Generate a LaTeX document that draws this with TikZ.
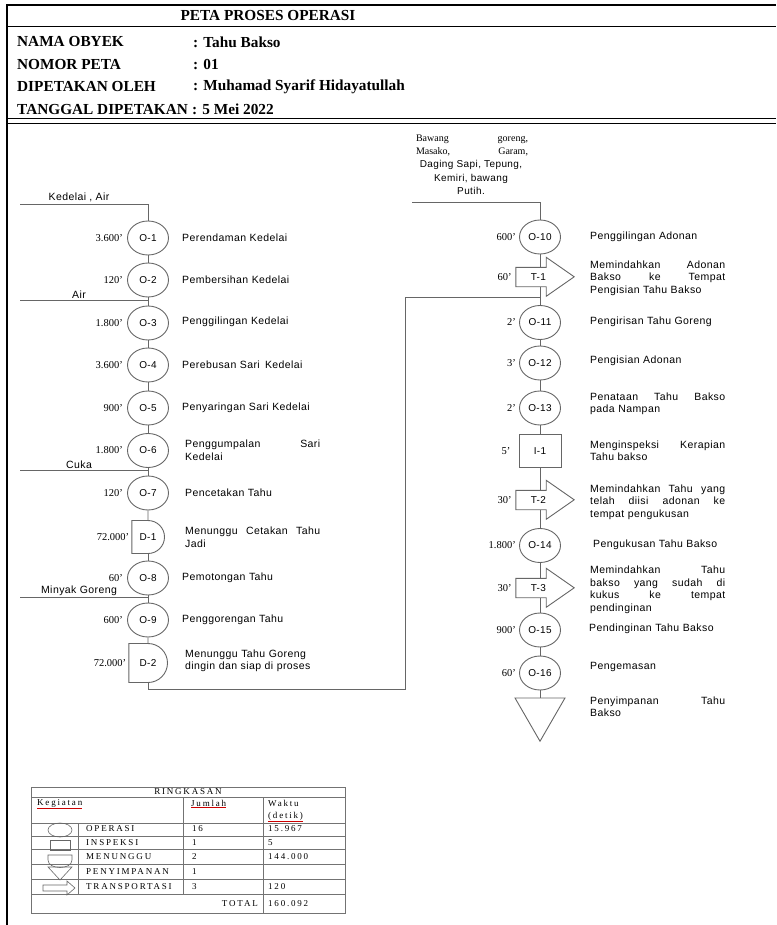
\documentclass[tikz,border=0pt]{standalone}
\usepackage{fontspec}
\setmainfont{Liberation Serif}
\newfontfamily\sansf[LetterSpace=4]{Liberation Sans}
\newfontfamily\tabf[LetterSpace=20]{Liberation Serif}
\usetikzlibrary{shapes.geometric,shapes.misc,positioning}

\newcommand{\hdfont}{\bfseries\fontsize{15.3}{18}\selectfont}
\newcommand{\descfont}{\sansf\fontsize{10.5}{12.5}\selectfont}
\newcommand{\lblfont}{\sansf\fontsize{10}{12}\selectfont}
\newcommand{\tmfont}{\fontsize{10.5}{12}\selectfont}
\newcommand{\tabfont}{\tabf\fontsize{9}{10}\selectfont}

% transport arrow drawn round its (invisible) body node
\newcommand{\tarrow}[1]{%
  \draw[shp] (#1.south west) -- (#1.north west) -- (#1.north east) -- ++(0,-10)
    -- ++(28,19.5) -- ++(-28,19.5) -- (#1.south east) -- cycle;}

\begin{document}
\begin{tikzpicture}[x=1pt, y=-1pt,
  conn/.style={draw=black!60, line width=0.9pt},
  shp/.style={draw=black!60, line width=0.9pt},
  op/.style={shp, ellipse, minimum width=41pt, minimum height=34pt, inner sep=0pt, font=\lblfont},
  dly/.style={shp, rounded rectangle, rounded rectangle west arc=none,
              minimum width=31pt, minimum height=33pt, inner sep=0pt, font=\lblfont},
  insp/.style={shp, rectangle, minimum width=42pt, minimum height=33pt, inner sep=0pt, font=\lblfont},
  trans/.style={minimum width=30pt, minimum height=19pt, inner sep=0pt,
                text width=30pt, align=right, font=\lblfont},
  stor/.style={shp, regular polygon, regular polygon sides=3, shape border rotate=180,
               minimum size=57.7pt, inner sep=0pt},
  tm/.style={font=\tmfont, inner sep=0pt},
  desc/.style={font=\descfont, anchor=west, text width=135pt, align=left, inner sep=0pt},
  inp/.style={font=\descfont, anchor=south, inner sep=1.5pt},
  hd/.style={font=\hdfont, inner sep=0pt},
  tabln/.style={draw=black!55, line width=0.6pt},
  tabtxt/.style={font=\tabfont, inner sep=0pt, anchor=west},
  redln/.style={draw=red!80!black, line width=0.6pt}
]
\useasboundingbox (0,0) rectangle (776,925);

% header
\draw[line width=1.8pt] (7,5) -- (7,925);
\draw[line width=1.2pt] (6,5) -- (776,5);
\draw[line width=1pt] (6,27) -- (776,27);
\draw[line width=1pt] (6,119) -- (776,119);
\draw[line width=0.8pt] (6,123) -- (776,123);

\node[hd] (title) at (268,16) {PETA PROSES OPERASI};
\node[hd, anchor=west] (nmk) at (17,42) {NAMA OBYEK};
\node[hd, anchor=west] (nmv) at (193,42) {: Tahu Bakso};
\node[hd, anchor=west] (nok) at (17,64.5) {NOMOR PETA};
\node[hd, anchor=west] (nov) at (193,64.5) {: 01};
\node[hd, anchor=west] (olk) at (17,87) {DIPETAKAN OLEH};
\node[hd, anchor=west] (olv) at (193,87) {: Muhamad Syarif Hidayatullah};
\node[hd, anchor=west] (tgk) at (17,109.5) {TANGGAL DIPETAKAN};
\node[hd, anchor=west] (tgv) at (192,109.5) {: 5 Mei 2022};

% left column
\node[op]  (o1) at (148,238) {O-1};
\node[op]  (o2) at (148,280) {O-2};
\node[op]  (o3) at (148,323) {O-3};
\node[op]  (o4) at (148,365) {O-4};
\node[op]  (o5) at (148,408) {O-5};
\node[op]  (o6) at (148,450.5) {O-6};
\node[op]  (o7) at (148,493) {O-7};
\node[dly] (d1) at (148,537) {D-1};
\node[op]  (o8) at (148,578) {O-8};
\node[op]  (o9) at (148,620) {O-9};
\node[dly, minimum height=39pt] (d2) at (148,663) {D-2};

\node[tm, left=4pt of o1] (o1t) {3.600'};
\node[tm, left=4pt of o2] (o2t) {120'};
\node[tm, left=4pt of o3] (o3t) {1.800'};
\node[tm, left=4pt of o4] (o4t) {3.600'};
\node[tm, left=4pt of o5] (o5t) {900'};
\node[tm, left=4pt of o6] (o6t) {1.800'};
\node[tm, left=4pt of o7] (o7t) {120'};
\node[tm, left=2pt of d1] (d1t) {72.000'};
\node[tm, left=4pt of o8] (o8t) {60'};
\node[tm, left=4pt of o9] (o9t) {600'};
\node[tm, left=2pt of d2] (d2t) {72.000'};

\node[desc] (o1d) at (182,238) {Perendaman Kedelai};
\node[desc] (o2d) at (182,280) {Pembersihan Kedelai};
\node[desc] (o3d) at (182,322) {Penggilingan Kedelai};
\node[desc] (o4d) at (182,365) {Perebusan Sari\, Kedelai};
\node[desc] (o5d) at (182,408) {Penyaringan Sari Kedelai};
\node[desc] (o6d) at (185,450) {Penggumpalan\hfill Sari\\Kedelai};
\node[desc] (o7d) at (185,493) {Pencetakan Tahu};
\node[desc] (d1d) at (185,537) {Menunggu\hfill Cetakan\hfill Tahu\\Jadi};
\node[desc] (o8d) at (182,578) {Pemotongan Tahu};
\node[desc] (o9d) at (182,620) {Penggorengan Tahu};
\node[desc] (d2d) at (185,661) {Menunggu Tahu Goreng\\dingin dan siap di proses};

% inputs, left
\coordinate (kd) at (20,204);
\coordinate (ai) at (20,300.5);
\coordinate (cu) at (20,470);
\coordinate (mg) at (20,597);
\node[inp] (kdl) at (79,204) {Kedelai , Air};
\node[inp] (ail) at (79,300.5) {Air};
\node[inp] (cul) at (79,470) {Cuka};
\node[inp] (mgl) at (79,597) {Minyak Goreng};
\draw[conn] (kd) -| (o1.north);
\draw[conn] (ai) -- (ai -| o2);
\draw[conn] (cu) -- (cu -| o6);
\draw[conn] (mg) -- (mg -| o8);

\foreach \a/\b in {o1/o2, o2/o3, o3/o4, o4/o5, o5/o6, o6/o7, o7/d1, d1/o8, o8/o9, o9/d2}
  \draw[conn] (\a) -- (\b);

% right column
\node[op]    (o10) at (540,237) {O-10};
\node[trans] (t1)  at (531,277) {T-1};
\node[op]    (o11) at (540,322.5) {O-11};
\node[op]    (o12) at (540,363) {O-12};
\node[op]    (o13) at (540,408) {O-13};
\node[insp]  (i1)  at (540,451) {I-1};
\node[trans] (t2)  at (531,500) {T-2};
\node[op]    (o14) at (540,545.5) {O-14};
\node[trans] (t3)  at (531,588) {T-3};
\node[op]    (o15) at (540,630) {O-15};
\node[op]    (o16) at (540,673) {O-16};
\node[stor]  (s1)  at (540,712.4) {};
\tarrow{t1}
\tarrow{t2}
\tarrow{t3}

\node[tm, left=3pt of o10] (o10t) {600'};
\node[tm, left=4pt of t1]  (t1t)  {60'};
\node[tm, left=3pt of o11] (o11t) {2'};
\node[tm, left=3pt of o12] (o12t) {3'};
\node[tm, left=3pt of o13] (o13t) {2'};
\node[tm, left=8pt of i1]  (i1t)  {5'};
\node[tm, left=4pt of t2]  (t2t)  {30'};
\node[tm, left=3pt of o14] (o14t) {1.800'};
\node[tm, left=4pt of t3]  (t3t)  {30'};
\node[tm, left=3pt of o15] (o15t) {900'};
\node[tm, left=3pt of o16] (o16t) {60'};

\node[desc] (o10d) at (590,237) {Penggilingan Adonan};
\node[desc] (t1d)  at (590,278) {Memindahkan\hfill Adonan\\Bakso\hfill ke\hfill Tempat\\Pengisian Tahu Bakso};
\node[desc] (o11d) at (590,322) {Pengirisan Tahu Goreng};
\node[desc] (o12d) at (590,361) {Pengisian Adonan};
\node[desc] (o13d) at (590,404) {Penataan\hfill Tahu\hfill Bakso\\pada Nampan};
\node[desc] (i1d)  at (590,450.5) {Menginspeksi\hfill Kerapian\\Tahu bakso};
\node[desc] (t2d)  at (590,502) {Memindahkan\hfill Tahu\hfill yang\\telah\hfill diisi\hfill adonan\hfill ke\\tempat pengukusan};
\node[desc] (o14d) at (593,545) {Pengukusan Tahu Bakso};
\node[desc] (t3d)  at (590,590) {Memindahkan\hfill Tahu\\bakso\hfill yang\hfill sudah\hfill di\\kukus\hfill ke\hfill tempat\\pendinginan};
\node[desc] (o15d) at (589,629) {Pendinginan Tahu Bakso};
\node[desc] (o16d) at (590,667) {Pengemasan};
\node[desc] (s1d)  at (590,706.5) {Penyimpanan\hfill Tahu\\Bakso};

% input, right
\node[font=\fontsize{10}{12.5}\selectfont, text width=112pt, align=left, inner sep=0pt]
  (bgl) at (472,145.5) {Bawang\hfill goreng,\\Masako,\hfill Garam,};
\node[font=\sansf\fontsize{10}{13.5}\selectfont, align=center, inner sep=0pt]
  (dgl) at (471,177.5) {Daging Sapi, Tepung,\\Kemiri, bawang\\Putih.};
\coordinate (bb) at (412,202);
\draw[conn] (bb) -| (o10.north);

\foreach \a/\b in {o11/o12, o12/o13, o13/i1, o15/o16, o16/s1}
  \draw[conn] (\a) -- (\b);
\foreach \a/\b in {o10/t1, i1/t2, o14/t3}
  \draw[conn] (\a) -- (\a |- \b.north);
\foreach \a/\b in {t1/o11, t2/o14, t3/o15}
  \draw[conn] (\b |- \a.south) -- (\b);

% from D-2 back up to the right column
\coordinate (lp) at (405,297);
\draw[conn] (d2.south) -- ++(0,6) -| (lp) -- (lp -| o11);

% summary table
\draw[tabln] (31.5,787) rectangle (345,913);
\foreach \y in {797,823,836,849.5,864,879,894}
  \draw[tabln] (31.5,\y) -- (345,\y);
\draw[tabln] (183,797) -- (183,894);
\draw[tabln] (263,797) -- (263,913);
\draw[tabln] (78,823) -- (78,894);

\node[tabtxt, anchor=center] (rk) at (188,792) {RINGKASAN};
\node[tabtxt] (kg) at (37,803) {Kegiatan};
\node[tabtxt] (jm) at (191,803) {Jumlah};
\node[tabtxt] (wk) at (268,803) {Waktu};
\node[tabtxt] (dt) at (268,816) {(detik)};
\draw[redln] ([yshift=-1pt]kg.south west) -- ([yshift=-1pt]kg.south east);
\draw[redln] ([yshift=-1pt]jm.south west) -- ([yshift=-1pt]jm.south east);
\draw[redln] ([yshift=-1pt]dt.south west) -- ([yshift=-1pt]dt.south east);

\foreach \y/\k/\n/\w [count=\i] in {829/OPERASI/16/15.967, 842.5/INSPEKSI/1/5,
    857/MENUNGGU/2/144.000, 872/PENYIMPANAN/1/{}, 887/TRANSPORTASI/3/120} {
  \node[tabtxt] (ka\i) at (86,\y) {\k};
  \node[tabtxt] (ju\i) at (192,\y) {\n};
  \node[tabtxt] (wa\i) at (268,\y) {\w};
}
\node[tabtxt, anchor=east] (tot) at (258,903.5) {TOTAL};
\node[tabtxt] (totv) at (268,903.5) {160.092};

% symbols of the summary
\draw[shp, line width=0.6pt] (60,830) ellipse (12 and 7);
\draw[shp, line width=0.6pt] (50,840) rectangle (70,850);
\draw[shp, line width=0.6pt] (48,855) -- (72,855) -- (72,860) .. controls (72,870) and (48,870) .. (48,860) -- cycle;
\draw[shp, line width=0.6pt] (48,867) -- (72,867) -- (60,880) -- cycle;
\draw[shp, line width=0.6pt] (43,885) -- (67,885) -- (67,881) -- (75,888) -- (67,895) -- (67,891) -- (43,891) -- cycle;
\end{tikzpicture}
\end{document}
